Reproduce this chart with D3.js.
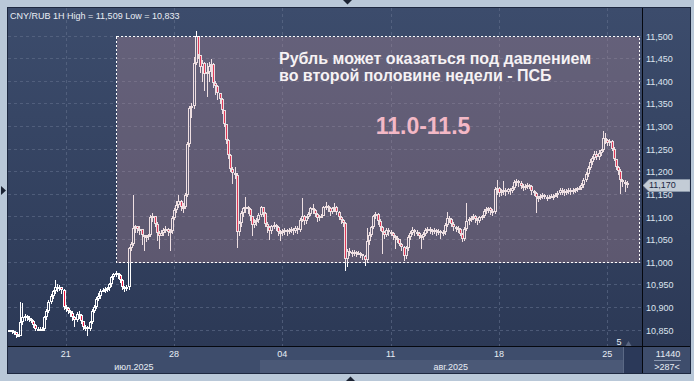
<!DOCTYPE html>
<html><head><meta charset="utf-8">
<script src="https://cdn.jsdelivr.net/npm/d3@7"></script>
<style>
html,body{margin:0;padding:0;background:#b9c8d8;overflow:hidden}
svg{display:block}
text{font-family:"Liberation Sans",Arial,sans-serif}
</style>
</head><body><svg id="c" width="694" height="381"></svg>
<script>
// ---------------- DATA (prices in thousandths of a rouble) ----------------
const firstOpen = 10846;
const closes = [
10848,10846,10844,10838,10836,10866,10878,10880,10876,10874,
10870,10860,10852,10850,10851,10852,10877,10892,10912,10924,
10935,10945,10942,10944,10938,10900,10897,10892,10886,10878,
10872,10884,10882,10868,10856,10855,10852,10866,10892,10900,
10918,10924,10936,10938,10940,10942,10950,10966,10972,10975,
10970,10960,10944,10941,10944,11030,11040,11075,11078,11072,
11072,11060,11054,11056,11058,11098,11102,11084,11064,11056,
11064,11070,11072,11066,11068,11096,11114,11126,11134,11120,
11122,11148,11260,11340,11345,11440,11498,11456,11430,11440,
11415,11420,11432,11438,11395,11388,11372,11360,11335,11305,
11270,11235,11205,11195,11192,11065,11085,11108,11118,11120,
11116,11100,11082,11088,11092,11104,11120,11108,11084,11076,
11068,11078,11082,11076,11066,11064,11068,11070,11066,11069,
11072,11068,11074,11070,11092,11100,11090,11098,11106,11118,
11114,11106,11096,11100,11102,11120,11124,11118,11110,11118,
11122,11110,11098,11092,11086,11006,11024,11022,11020,11022,
11018,11020,11016,11012,11004,11046,11060,11076,11100,11106,
11090,11076,11066,11060,11070,11066,11064,11056,11052,11050,
11040,11032,11012,11030,11054,11064,11070,11066,11064,11056,
11054,11062,11070,11072,11070,11068,11070,11066,11068,11064,
11066,11082,11096,11094,11084,11076,11074,11072,11062,11050,
11072,11090,11094,11096,11102,11094,11090,11098,11100,11112,
11116,11118,11112,11110,11160,11164,11152,11156,11158,11154,
11160,11156,11164,11176,11178,11174,11168,11164,11168,11170,
11168,11156,11152,11144,11140,11146,11148,11144,11142,11144,
11146,11144,11148,11152,11158,11156,11154,11156,11158,11156,
11158,11160,11162,11164,11170,11180,11194,11208,11220,11230,
11238,11232,11240,11246,11274,11268,11262,11266,11250,11228,
11210,11200,11180,11176,11174,11170];
const highs = [
10850,10849,10847,10845,10840,10911,10909,10885,10882,10879,
10876,10872,10862,10856,10855,10856,10880,10896,10915,10928,
10938,10960,10950,10948,10945,10940,10905,10900,10894,10890,
10880,10888,10890,10884,10870,10860,10858,10870,10895,10904,
10922,10930,10940,10942,10944,10945,10954,10968,10976,10980,
10976,10972,10962,10946,10948,11033,11044,11148,11082,11080,
11078,11070,11060,11060,11062,11104,11107,11100,11088,11068,
11070,11074,11078,11074,11072,11100,11118,11134,11148,11136,
11130,11152,11265,11345,11350,11452,11509,11500,11458,11446,
11442,11440,11442,11447,11440,11400,11390,11374,11362,11336,
11305,11272,11238,11210,11210,11195,11090,11112,11122,11144,
11124,11118,11102,11094,11096,11108,11124,11122,11110,11088,
11078,11082,11088,11084,11078,11070,11072,11074,11072,11074,
11076,11074,11078,11078,11096,11141,11104,11102,11110,11122,
11128,11116,11108,11104,11106,11124,11132,11126,11120,11122,
11130,11124,11112,11100,11094,11088,11028,11030,11026,11026,
11024,11024,11022,11018,11014,11074,11066,11080,11104,11110,
11108,11094,11078,11068,11074,11074,11070,11066,11058,11056,
11050,11042,11034,11034,11058,11068,11076,11072,11070,11066,
11060,11066,11074,11076,11076,11072,11074,11072,11072,11070,
11070,11086,11110,11100,11096,11088,11080,11078,11074,11064,
11076,11130,11098,11100,11106,11104,11096,11102,11104,11116,
11120,11122,11120,11116,11166,11181,11166,11160,11178,11162,
11164,11164,11168,11180,11182,11180,11178,11172,11172,11174,
11172,11170,11158,11154,11146,11150,11152,11150,11148,11148,
11150,11150,11152,11156,11162,11162,11160,11160,11162,11162,
11162,11164,11166,11168,11174,11184,11198,11212,11226,11234,
11244,11244,11246,11250,11288,11284,11272,11272,11268,11254,
11228,11212,11204,11182,11180,11178];
const lows = [
10844,10843,10840,10834,10833,10835,10862,10872,10872,10868,
10866,10856,10848,10846,10847,10848,10850,10874,10888,10908,
10920,10930,10936,10938,10930,10896,10890,10886,10880,10872,
10858,10870,10876,10864,10852,10848,10838,10848,10864,10888,
10898,10916,10920,10932,10934,10936,10938,10946,10962,10968,
10964,10956,10940,10936,10938,10940,11026,11036,11066,11066,
11062,11040,11026,11046,11050,11056,11090,11078,11048,11030,
11056,11060,11066,11060,11026,11064,11094,11110,11120,11114,
11110,11118,11146,11255,11320,11340,11436,11450,11420,11400,
11380,11366,11400,11410,11386,11370,11360,11350,11328,11300,
11262,11230,11200,11175,11185,11033,11060,11080,11100,11110,
11108,11092,11059,11076,11082,11088,11100,11102,11078,11066,
11050,11064,11074,11070,11060,11048,11060,11062,11060,11064,
11066,11062,11066,11064,11068,11090,11084,11086,11096,11104,
11108,11100,11090,11092,11096,11100,11116,11112,11104,11108,
11112,11106,11094,11086,11080,10982,10990,11014,11012,11014,
11012,11014,11010,11006,10993,11000,11040,11056,11074,11096,
11084,11070,11020,11052,11056,11060,11058,11050,11030,11044,
11036,11026,11004,11008,11026,11050,11062,11060,11058,11052,
11030,11050,11060,11066,11064,11062,11064,11060,11062,11052,
11060,11062,11080,11088,11080,11070,11068,11066,11058,11046,
11048,11070,11084,11090,11094,11088,11084,11088,11094,11098,
11108,11110,11106,11104,11108,11150,11146,11148,11150,11148,
11152,11150,11154,11160,11170,11168,11164,11158,11160,11164,
11162,11150,11148,11110,11134,11138,11140,11140,11136,11138,
11140,11138,11142,11144,11150,11150,11148,11150,11152,11150,
11152,11154,11156,11158,11160,11166,11178,11190,11204,11216,
11226,11226,11228,11236,11244,11262,11258,11258,11246,11224,
11204,11194,11151,11168,11156,11166];

const yTickValues = [10.85,10.9,10.95,11.0,11.05,11.1,11.15,11.2,11.25,11.3,11.35,11.4,11.45,11.5];
const dayTickIndex = [26,76,126,176,226,276];
const dayTickLabels = ["21","28","04","11","18","25"];
const monthLabels = ["июл.2025","авг.2025"];
const monthStartIndex = [-0.6, 115.5];
const titleText = "CNY/RUB 1H High = 11,509 Low = 10,833";
const lastPrice = 11.170;
const rangeBand = [11.0, 11.5];
const rangeBandIndex = [49.35, 290.5];
const noteLines = ["Рубль может оказаться под давлением","во второй половине недели - ПСБ"];
const rangeLabel = "11.0-11.5";
const footerTop = "11440", footerBottom = ">287<";
const scrollCount = "5";

// ---------------- LAYOUT ----------------
const L = 8, T = 8, R = 642, B = 346, AXR = 690, BB = 373;
const FS = 9;
const svg = d3.select("#c");
const defs = svg.append("defs");
const g1 = defs.append("linearGradient").attr("id","bg").attr("x1",0).attr("y1",0).attr("x2",0).attr("y2",1);
g1.append("stop").attr("offset","0").attr("stop-color","#3c4c6c");
g1.append("stop").attr("offset","1").attr("stop-color","#2c3956");
defs.append("clipPath").attr("id","plotclip").append("rect").attr("x",L).attr("y",T).attr("width",R-L).attr("height",B-T);

const data = closes.map((c,i)=>{
  const o = i===0 ? firstOpen : closes[i-1];
  return {i, o:o/1000, c:c/1000, h:Math.max(highs[i],o,c)/1000, l:Math.min(lows[i],o,c)/1000};
});

const x = d3.scaleLinear().domain([0, 285]).range([9.4, 9.4 + 2.166*285]);
const y = d3.scaleLinear().domain([11.0, 11.5]).range([261.7, 35.5]);

// frame background
svg.append("rect").attr("width",694).attr("height",381).attr("fill","#b9c8d8");
svg.append("rect").attr("x",L).attr("y",T).attr("width",AXR-L).attr("height",B-T).attr("fill","url(#bg)");

// plot group
const plot = svg.append("g").attr("clip-path","url(#plotclip)").attr("shape-rendering","crispEdges");
plot.selectAll(".hg").data(yTickValues).join("line")
  .attr("x1",L).attr("x2",R).attr("y1",d=>Math.round(y(d))+0.5).attr("y2",d=>Math.round(y(d))+0.5)
  .attr("stroke","#62708c").attr("stroke-opacity",0.6).attr("stroke-dasharray","3,3");
plot.selectAll(".vg").data(dayTickIndex).join("line")
  .attr("x1",d=>Math.round(x(d))+0.5).attr("x2",d=>Math.round(x(d))+0.5).attr("y1",T).attr("y2",B)
  .attr("stroke","#62708c").attr("stroke-opacity",0.6).attr("stroke-dasharray","3,3");

// candles
const cg = plot.append("g");
data.forEach(d=>{
  const cx = Math.round(x(d.i));
  let top = Math.round(y(Math.max(d.o,d.c)));
  let bot = Math.round(y(Math.min(d.o,d.c)));
  if (bot - top < 2) bot = top + 2;
  const yh = Math.round(y(d.h)), yl = Math.round(y(d.l));
  const g = cg.append("g");
  const W = "#ffffff";
  if (yh < top) g.append("rect").attr("x",cx).attr("y",yh).attr("width",1).attr("height",top-yh).attr("fill",W);
  if (yl > bot) g.append("rect").attr("x",cx).attr("y",bot).attr("width",1).attr("height",yl-bot+1).attr("fill",W);
  g.append("rect").attr("x",cx-1).attr("y",top).attr("width",1).attr("height",bot-top).attr("fill",W);
  g.append("rect").attr("x",cx+1).attr("y",top).attr("width",1).attr("height",bot-top).attr("fill",W);
  g.append("rect").attr("x",cx-1).attr("y",top).attr("width",3).attr("height",1).attr("fill",W);
  g.append("rect").attr("x",cx-1).attr("y",bot-1).attr("width",3).attr("height",1).attr("fill",W);
  if (d.c < d.o && bot-top > 2)
    g.append("rect").attr("x",cx).attr("y",top+1).attr("width",1).attr("height",bot-top-2).attr("fill","#e8143c");
});

// range overlay
plot.append("rect")
  .attr("x",Math.round(x(rangeBandIndex[0]))+0.5).attr("y",Math.round(y(rangeBand[1]))+0.5)
  .attr("width",Math.round(x(rangeBandIndex[1]))-Math.round(x(rangeBandIndex[0])))
  .attr("height",Math.round(y(rangeBand[0]))-Math.round(y(rangeBand[1])))
  .attr("fill","rgb(200,150,160)").attr("fill-opacity",0.3)
  .attr("stroke","#ffffff").attr("stroke-dasharray","2,2").attr("stroke-width",1);

// annotation texts
svg.append("text").attr("x",279).attr("y",63.5).attr("font-size",16).attr("font-weight","bold").attr("fill","#f6f2f4").text(noteLines[0]);
svg.append("text").attr("x",279).attr("y",80.5).attr("font-size",16).attr("font-weight","bold").attr("fill","#f6f2f4").text(noteLines[1]);
svg.append("text").attr("x",423).attr("y",133.5).attr("text-anchor","middle").attr("font-size",23).attr("font-weight","bold").attr("fill","#f3b8c6").text(rangeLabel);

// title
svg.append("text").attr("x",10).attr("y",18.5).attr("font-size",FS).attr("fill","#e9edf4").text(titleText);

// right axis
const fmt = v => d3.format(".3f")(v).replace(".",",");
const yAxis = d3.axisRight(y).tickValues(yTickValues).tickSize(0).tickPadding(4).tickFormat(fmt);
const ya = svg.append("g").attr("transform",`translate(${R},0)`).call(yAxis);
ya.select(".domain").remove();
ya.selectAll("text").attr("font-size",FS).attr("dy","0.4em").attr("fill","#dde4ee").attr("font-family","Liberation Sans, Arial, sans-serif");

// price label
const py = Math.round(y(lastPrice)) + 0.5;
svg.append("path").attr("d",`M643,${py} L649,${py-6} L690,${py-6} L690,${py+6} L649,${py+6} Z`).attr("fill","#c3ccd6").attr("stroke","#9aa6b6").attr("stroke-width",0.5);
svg.append("text").attr("x",649).attr("y",py-0.5).attr("dy","0.33em").attr("font-size",FS).attr("fill","#1a2742").text(fmt(lastPrice));

// bottom axis
const bax = svg.append("g").attr("shape-rendering","crispEdges");
bax.append("rect").attr("x",L).attr("y",B).attr("width",R-L).attr("height",BB-B).attr("fill","#3e4d6c");
const monthEnds = monthStartIndex.slice(1).map(v=>x(v)).concat([R]);
bax.append("rect").attr("x",Math.round(x(monthStartIndex[1]))).attr("y",360).attr("width",R-Math.round(x(monthStartIndex[1]))).attr("height",BB-360).attr("fill","#4b5977");
svg.selectAll(".dl").data(dayTickIndex).join("text")
  .attr("x",d=>x(d)).attr("y",357).attr("text-anchor","middle").attr("font-size",FS).attr("fill","#e8edf5")
  .text((d,i)=>dayTickLabels[i]);
svg.selectAll(".ml").data(monthLabels).join("text")
  .attr("x",(d,i)=>{const a = Math.max(L, x(monthStartIndex[i])); return (a+monthEnds[i])/2;})
  .attr("y",370).attr("text-anchor","middle").attr("font-size",FS).attr("fill","#e8edf5").text(d=>d);
// scroll box
bax.append("rect").attr("x",624).attr("y",B).attr("width",R-624).attr("height",BB-B).attr("fill","#2b3959");
bax.append("rect").attr("x",623).attr("y",B).attr("width",1).attr("height",BB-B).attr("fill","#5b6985");
svg.append("path").attr("d","M625.5,346 L628.5,341 L631.5,346 Z").attr("fill","#5a6782");
svg.append("text").attr("x",619).attr("y",345).attr("text-anchor","middle").attr("font-size",FS).attr("fill","#e8edf5").text(scrollCount);
// corner box
bax.append("rect").attr("x",R).attr("y",B).attr("width",AXR-R).attr("height",BB-B).attr("fill","#3e4d6c");
svg.append("text").attr("x",668).attr("y",356.5).attr("text-anchor","middle").attr("font-size",FS).attr("fill","#e8edf5").text(footerTop);
bax.append("rect").attr("x",654).attr("y",360).attr("width",27).attr("height",1).attr("fill","#8a98b0");
svg.append("text").attr("x",667).attr("y",369.5).attr("text-anchor","middle").attr("font-size",FS).attr("fill","#e8edf5").text(footerBottom);

// separators & border
bax.append("rect").attr("x",L).attr("y",B).attr("width",AXR-L).attr("height",1).attr("fill","#05080f");
bax.append("rect").attr("x",R).attr("y",T).attr("width",1).attr("height",BB-T).attr("fill","#05080f");
svg.append("rect").attr("x",L-0.5).attr("y",T-0.5).attr("width",AXR-L+1).attr("height",BB-T+1).attr("fill","none").attr("stroke","#1d2840");

// frame decorations
svg.append("path").attr("d","M343,0 L352,0 L347.5,4.5 Z").attr("fill","#1b2333");
svg.append("path").attr("d","M346,381 L355,381 L350.5,376.5 Z").attr("fill","#1b2333");
svg.append("path").attr("d","M1,186 L6,190.5 L1,195 Z").attr("fill","#1b2333");
</script>
</body></html>
